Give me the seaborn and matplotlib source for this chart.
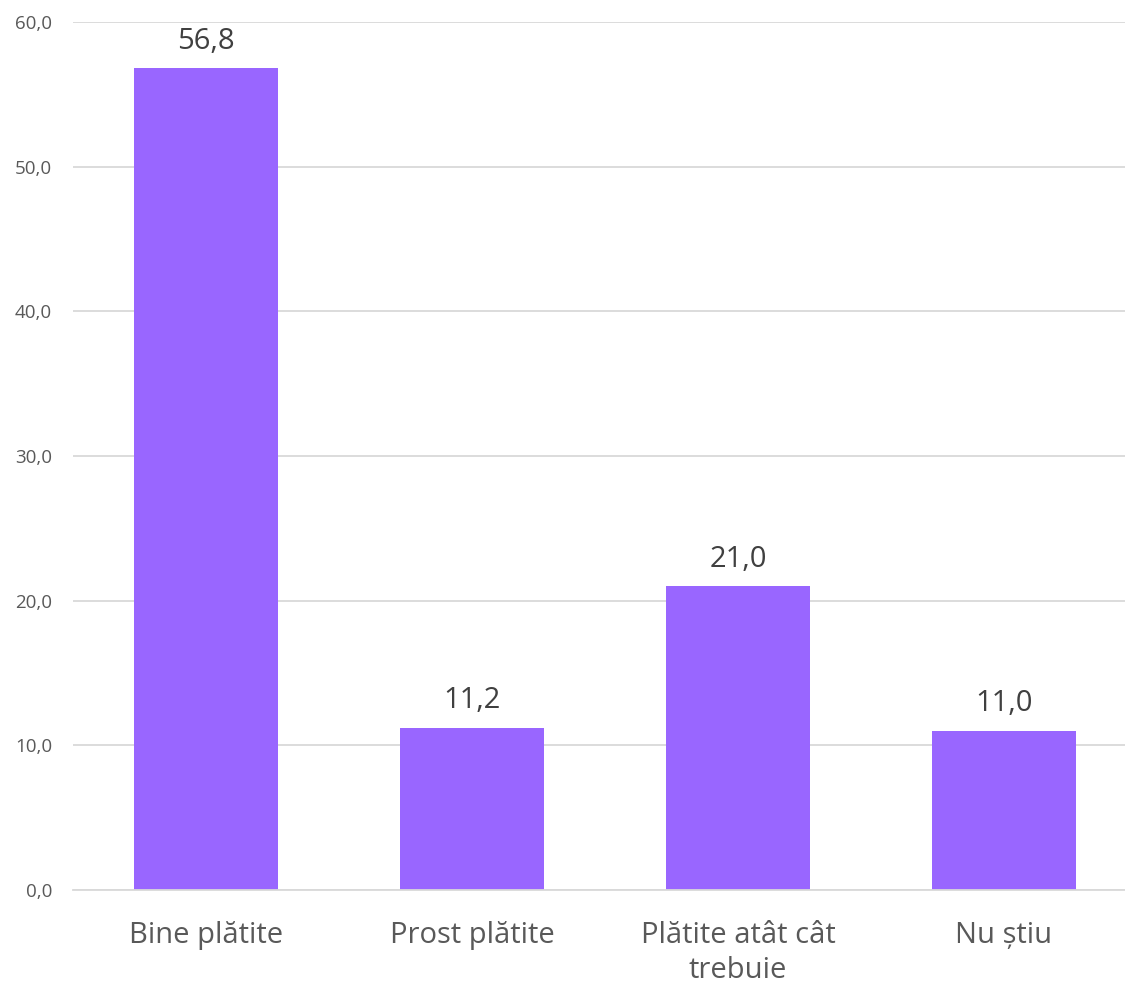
import matplotlib.pyplot as plt
import seaborn as sns
import pandas as pd

# Chart data
categories = ["Bine plătite", "Prost plătite", "Plătite atât cât\ntrebuie", "Nu știu"]
values = [56.8, 11.2, 21.0, 11.0]
y_ticks = [0, 10, 20, 30, 40, 50, 60]

df = pd.DataFrame({"cat": categories, "val": values})

sns.set_theme(style="white")
plt.rcParams["font.family"] = ["Open Sans", "DejaVu Sans"]

W, H = 1125, 985
fig = plt.figure(figsize=(W / 100, H / 100), dpi=100)
ax = fig.add_axes([73 / W, (H - 890) / H, 1052 / W, 868 / H])

sns.barplot(data=df, x="cat", y="val", color="#9966FF", saturation=1,
            width=0.54, linewidth=0, ax=ax)

ax.set_xlim(-0.5, -0.5 + 1052 / 266)
ax.set_ylim(0, 60)
ax.set_yticks(y_ticks)
ax.set_yticklabels([f"{t:.1f}".replace(".", ",") for t in y_ticks])
ax.grid(axis="y", color="#D9D9D9", linewidth=1.3)
ax.set_axisbelow(True)
for s in ["top", "right", "left"]:
    ax.spines[s].set_visible(False)
ax.spines["bottom"].set_color("#D9D9D9")
ax.spines["bottom"].set_linewidth(1.3)

ax.tick_params(axis="y", length=0, pad=15, labelsize=13.5, labelcolor="#595959")
ax.tick_params(axis="x", length=0, pad=22, labelsize=21, labelcolor="#595959")
for lbl in ax.get_xticklabels():
    lbl.set_linespacing(1.3)
ax.set_xlabel("")
ax.set_ylabel("")

ax.bar_label(ax.containers[0],
             labels=[f"{v:.1f}".replace(".", ",") for v in values],
             padding=9, fontsize=21, color="#404040")

fig.savefig("out.png", dpi=100, facecolor="white")
